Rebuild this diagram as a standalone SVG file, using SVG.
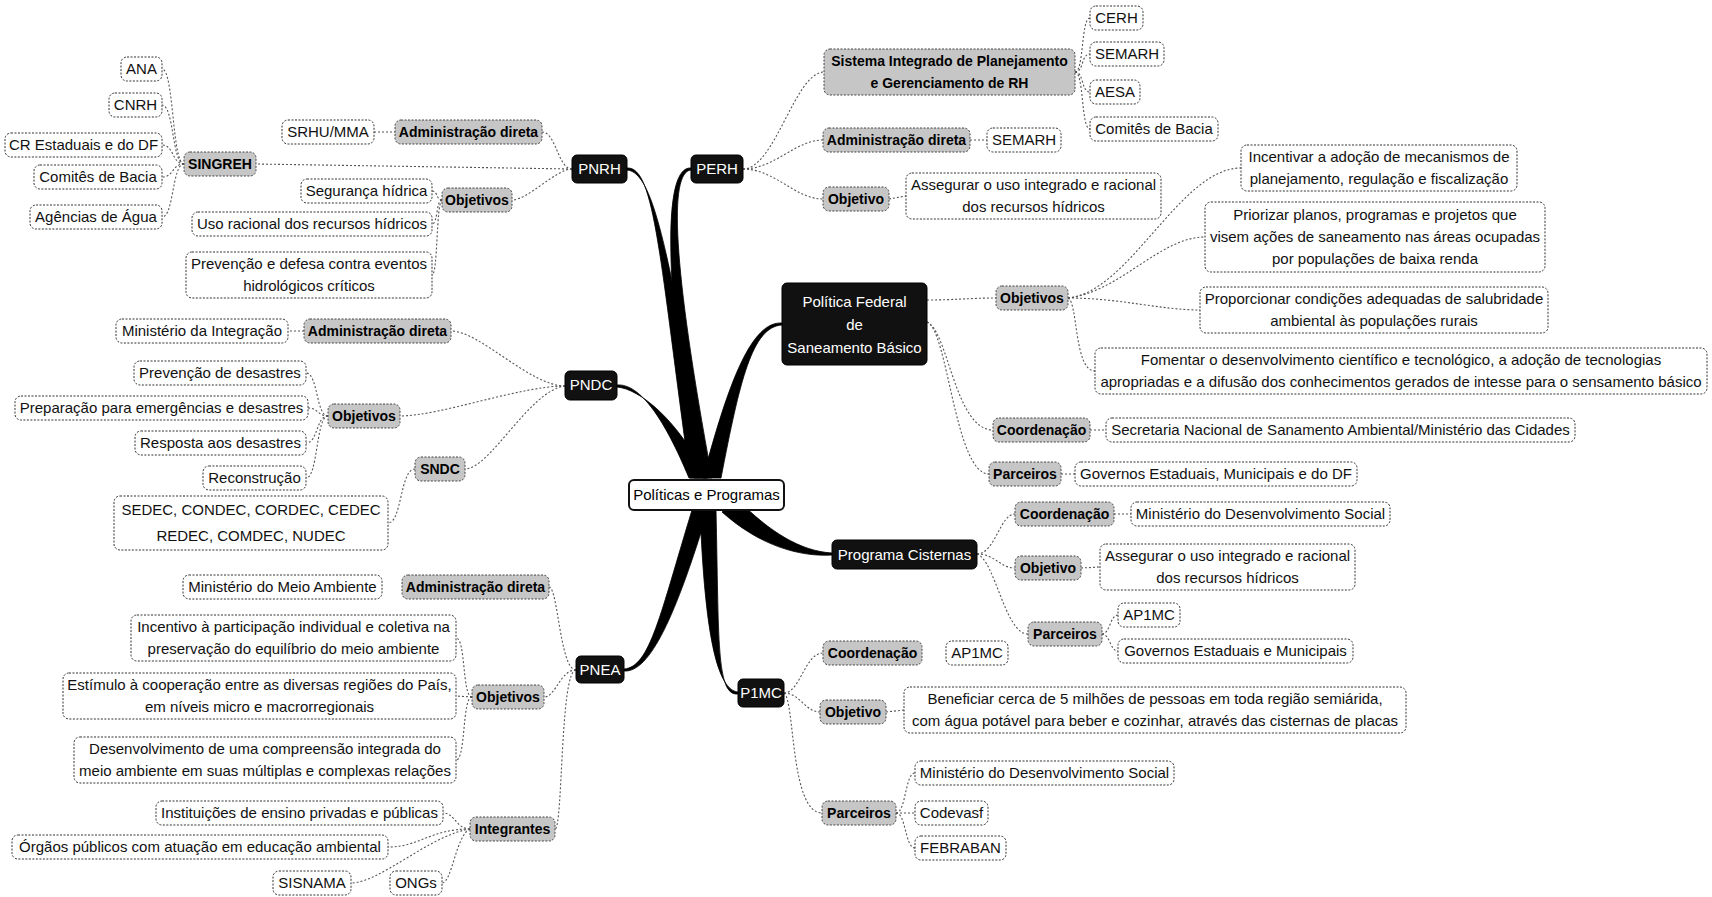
<svg xmlns="http://www.w3.org/2000/svg" width="1712" height="897" viewBox="0 0 1712 897">
<style>
text{font-family:"Liberation Sans",Arial,sans-serif;text-anchor:middle}
.lf rect{fill:#fff;stroke:#333;stroke-width:1;stroke-dasharray:2 1.5}
.lf text{font-size:15px;fill:#111}
.gl rect{fill:#c6c6c6;stroke:#444;stroke-width:1;stroke-dasharray:2 1.5}
.gl text{font-size:14px;font-weight:bold;fill:#000}
.mn rect{fill:#111;stroke:#000}
.mn text{font-size:15px;fill:#fff}
.ct rect{fill:#fff;stroke:#111;stroke-width:2}
.ct text{font-size:15px;fill:#000}
.c{fill:none;stroke:#555;stroke-width:1.1;stroke-dasharray:2 2}
.br{fill:#000;stroke:#000;stroke-width:0.8}
</style>
<rect width="1712" height="897" fill="#fff"/>
<g id="connectors">
<g id="branches">
<path class="br" d="M627 168 C655 166 660 262 690 478 L708 478 C670 262 655 172 627 170 Z"/>
<path class="br" d="M691 168 C665 166 662 262 694 478 L712 478 C672 262 669 172 691 170 Z"/>
<path class="br" d="M782 323 C752 321 729 380 703 478 L721 478 C740 380 752 327 782 325 Z"/>
<path class="br" d="M617 385 C640 383 665 420 689 478 L707 478 C678 420 640 389 617 387 Z"/>
<path class="br" d="M832 553 C800 551 770 532 738 500 L722 512 C760 546 800 557 832 555 Z"/>
<path class="br" d="M624 669 C650 667 660 615 692 510 L708 510 C676 615 650 673 624 671 Z"/>
<path class="br" d="M738 692 C718 690 705 640 700 510 L716 510 C719 640 716 696 738 694 Z"/>
</g>
<path class="c" d="M572 169 L256 164"/>
<path class="c" d="M572 169 C558 169 556 132 542 132"/>
<path class="c" d="M572 169 C556 169 528 200 512 200"/>
<path class="c" d="M374 132 L395 132"/>
<path class="c" d="M442 200 C436 200 438 191 432 191"/>
<path class="c" d="M442 200 C436 200 438 224 432 224"/>
<path class="c" d="M442 200 C436 204 438 275 432 275"/>
<path class="c" d="M184 164 C172 164 174 69 162 69"/>
<path class="c" d="M184 164 C172 164 174 105 162 105"/>
<path class="c" d="M184 164 C172 164 174 145 162 145"/>
<path class="c" d="M184 164 C172 164 174 177 162 177"/>
<path class="c" d="M184 164 C172 164 174 217 162 217"/>
<path class="c" d="M743 169 C775 169 795 72 824 72"/>
<path class="c" d="M743 169 C775 169 795 140 823 140"/>
<path class="c" d="M743 169 C775 169 795 199 823 199"/>
<path class="c" d="M1075 72 C1084 72 1081 18 1090 18"/>
<path class="c" d="M1075 72 C1084 72 1081 54 1090 54"/>
<path class="c" d="M1075 72 C1084 72 1081 92 1090 92"/>
<path class="c" d="M1075 72 C1084 72 1081 129 1090 129"/>
<path class="c" d="M970 140 L987 140"/>
<path class="c" d="M889 199 L906 196"/>
<path class="c" d="M927 300 C955 300 970 298 996 298"/>
<path class="c" d="M927 322 C948 330 955 430 993 430"/>
<path class="c" d="M927 322 C948 330 955 474 989 474"/>
<path class="c" d="M1068 298 C1130 292 1180 168 1241 168"/>
<path class="c" d="M1068 298 C1120 292 1160 237 1205 237"/>
<path class="c" d="M1068 298 C1120 298 1160 310 1200 310"/>
<path class="c" d="M1068 298 C1078 302 1074 371 1095 371"/>
<path class="c" d="M1090 430 L1106 430"/>
<path class="c" d="M1061 474 L1075 474"/>
<path class="c" d="M565 386 C530 386 480 331 451 331"/>
<path class="c" d="M565 386 C520 386 440 416 400 416"/>
<path class="c" d="M565 386 C530 390 490 469 465 469"/>
<path class="c" d="M304 331 L288 331"/>
<path class="c" d="M328 416 C316 416 318 373 306 373"/>
<path class="c" d="M328 416 C318 416 318 408 308 408"/>
<path class="c" d="M328 416 C316 416 318 443 306 443"/>
<path class="c" d="M328 416 C316 416 318 478 306 478"/>
<path class="c" d="M415 469 C400 469 402 523 388 523"/>
<path class="c" d="M576 670 C560 670 558 587 549 587"/>
<path class="c" d="M576 670 C560 670 556 697 544 697"/>
<path class="c" d="M576 670 C560 670 563 829 555 829"/>
<path class="c" d="M472 697 C462 697 466 638 456 638"/>
<path class="c" d="M472 697 L456 696"/>
<path class="c" d="M472 697 C462 697 466 760 456 760"/>
<path class="c" d="M470 829 C456 829 455 813 443 813"/>
<path class="c" d="M470 829 C430 829 420 847 388 847"/>
<path class="c" d="M470 829 C430 835 380 883 351 883"/>
<path class="c" d="M470 829 C456 835 452 883 442 883"/>
<path class="c" d="M977 554 C995 554 1000 514 1015 514"/>
<path class="c" d="M977 554 C995 554 1000 568 1015 568"/>
<path class="c" d="M977 554 C995 560 1005 634 1028 634"/>
<path class="c" d="M1114 514 L1131 514"/>
<path class="c" d="M1081 568 L1100 567"/>
<path class="c" d="M1102 634 C1110 634 1110 615 1118 615"/>
<path class="c" d="M1102 634 C1110 634 1110 651 1118 651"/>
<path class="c" d="M784 693 C800 693 805 653 823 653"/>
<path class="c" d="M784 693 C800 693 805 712 820 712"/>
<path class="c" d="M784 693 C795 700 790 813 822 813"/>
<path class="c" d="M886 712 L904 710"/>
<path class="c" d="M896 813 C906 813 905 773 915 773"/>
<path class="c" d="M896 813 L915 813"/>
<path class="c" d="M896 813 C906 813 905 848 915 848"/>
</g>

<g id="n_center" class="ct"><rect x="629" y="480" width="155" height="30" rx="5"/><text x="706.5" y="500">Políticas e Programas</text></g>

<g id="n_pnrh" class="mn"><rect x="572" y="155" width="55" height="28" rx="5"/><text x="599.5" y="174">PNRH</text></g>
<g id="n_singreh" class="gl"><rect x="184" y="152" width="72" height="24" rx="6"/><text x="220" y="169">SINGREH</text></g>
<g id="n_ana" class="lf"><rect x="121" y="57" width="41" height="24" rx="6"/><text x="141.5" y="74">ANA</text></g>
<g id="n_cnrh" class="lf"><rect x="109" y="93" width="53" height="24" rx="6"/><text x="135.5" y="110">CNRH</text></g>
<g id="n_cr" class="lf"><rect x="5" y="133" width="157" height="24" rx="6"/><text x="83.5" y="150">CR Estaduais e do DF</text></g>
<g id="n_comites1" class="lf"><rect x="34" y="165" width="128" height="24" rx="6"/><text x="98" y="182">Comitês de Bacia</text></g>
<g id="n_agencias" class="lf"><rect x="30" y="205" width="132" height="24" rx="6"/><text x="96" y="222">Agências de Água</text></g>
<g id="n_srhu" class="lf"><rect x="282" y="120" width="92" height="24" rx="6"/><text x="328" y="137">SRHU/MMA</text></g>
<g id="n_adm1" class="gl"><rect x="395" y="120" width="147" height="24" rx="6"/><text x="468.5" y="137">Administração direta</text></g>
<g id="n_obj1" class="gl"><rect x="442" y="188" width="70" height="24" rx="6"/><text x="477" y="205">Objetivos</text></g>
<g id="n_seg" class="lf"><rect x="301" y="179" width="131" height="24" rx="6"/><text x="366.5" y="196">Segurança hídrica</text></g>
<g id="n_uso" class="lf"><rect x="192" y="212" width="240" height="24" rx="6"/><text x="312" y="229">Uso racional dos recursos hídricos</text></g>
<g id="n_prev1" class="lf"><rect x="186" y="252" width="246" height="46" rx="6"/><text x="309" y="269">Prevenção e defesa contra eventos</text><text x="309" y="291">hidrológicos críticos</text></g>

<g id="n_perh" class="mn"><rect x="691" y="155" width="52" height="28" rx="5"/><text x="717" y="174">PERH</text></g>
<g id="n_sistema" class="gl"><rect x="824" y="49" width="251" height="46" rx="6"/><text x="949.5" y="66">Sistema Integrado de Planejamento</text><text x="949.5" y="88">e Gerenciamento de RH</text></g>
<g id="n_cerh" class="lf"><rect x="1090" y="6" width="53" height="24" rx="6"/><text x="1116.5" y="23">CERH</text></g>
<g id="n_semarh1" class="lf"><rect x="1090" y="42" width="74" height="24" rx="6"/><text x="1127" y="59">SEMARH</text></g>
<g id="n_aesa" class="lf"><rect x="1090" y="80" width="50" height="24" rx="6"/><text x="1115" y="97">AESA</text></g>
<g id="n_comites2" class="lf"><rect x="1090" y="117" width="128" height="24" rx="6"/><text x="1154" y="134">Comitês de Bacia</text></g>
<g id="n_adm2" class="gl"><rect x="823" y="128" width="147" height="24" rx="6"/><text x="896.5" y="145">Administração direta</text></g>
<g id="n_semarh2" class="lf"><rect x="987" y="128" width="74" height="24" rx="6"/><text x="1024" y="145">SEMARH</text></g>
<g id="n_obj2" class="gl"><rect x="823" y="187" width="66" height="24" rx="6"/><text x="856" y="204">Objetivo</text></g>
<g id="n_assegurar1" class="lf"><rect x="906" y="173" width="255" height="46" rx="6"/><text x="1033.5" y="190">Assegurar o uso integrado e racional</text><text x="1033.5" y="212">dos recursos hídricos</text></g>

<g id="n_pf" class="mn"><rect x="782" y="283" width="145" height="82" rx="5"/><text x="854.5" y="307">Política Federal</text><text x="854.5" y="330">de</text><text x="854.5" y="353">Saneamento Básico</text></g>
<g id="n_obj3" class="gl"><rect x="996" y="286" width="72" height="24" rx="6"/><text x="1032" y="303">Objetivos</text></g>
<g id="n_incentivar" class="lf"><rect x="1241" y="145" width="276" height="46" rx="6"/><text x="1379" y="162">Incentivar a adoção de mecanismos de</text><text x="1379" y="184">planejamento, regulação e fiscalização</text></g>
<g id="n_priorizar" class="lf"><rect x="1205" y="202" width="340" height="70" rx="6"/><text x="1375" y="220">Priorizar planos, programas e projetos que</text><text x="1375" y="242">visem ações de saneamento nas áreas ocupadas</text><text x="1375" y="264">por populações de baixa renda</text></g>
<g id="n_proporcionar" class="lf"><rect x="1200" y="287" width="348" height="46" rx="6"/><text x="1374" y="304">Proporcionar condições adequadas de salubridade</text><text x="1374" y="326">ambiental às populações rurais</text></g>
<g id="n_fomentar" class="lf"><rect x="1095" y="348" width="612" height="46" rx="6"/><text x="1401" y="365">Fomentar o desenvolvimento científico e tecnológico, a adoção de tecnologias</text><text x="1401" y="387">apropriadas e a difusão dos conhecimentos gerados de intesse para o sensamento básico</text></g>
<g id="n_coord1" class="gl"><rect x="993" y="418" width="97" height="24" rx="6"/><text x="1041.5" y="435">Coordenação</text></g>
<g id="n_secretaria" class="lf"><rect x="1106" y="418" width="469" height="24" rx="6"/><text x="1340.5" y="435">Secretaria Nacional de Sanamento Ambiental/Ministério das Cidades</text></g>
<g id="n_parc1" class="gl"><rect x="989" y="462" width="72" height="24" rx="6"/><text x="1025" y="479">Parceiros</text></g>
<g id="n_gov1" class="lf"><rect x="1075" y="462" width="282" height="24" rx="6"/><text x="1216" y="479">Governos Estaduais, Municipais e do DF</text></g>

<g id="n_pndc" class="mn"><rect x="565" y="371" width="52" height="29" rx="5"/><text x="591" y="390">PNDC</text></g>
<g id="n_min_int" class="lf"><rect x="116" y="319" width="172" height="24" rx="6"/><text x="202" y="336">Ministério da Integração</text></g>
<g id="n_adm3" class="gl"><rect x="304" y="319" width="147" height="24" rx="6"/><text x="377.5" y="336">Administração direta</text></g>
<g id="n_obj4" class="gl"><rect x="328" y="404" width="72" height="24" rx="6"/><text x="364" y="421">Objetivos</text></g>
<g id="n_prev2" class="lf"><rect x="134" y="361" width="172" height="24" rx="6"/><text x="220" y="378">Prevenção de desastres</text></g>
<g id="n_prep" class="lf"><rect x="15" y="396" width="293" height="24" rx="6"/><text x="161.5" y="413">Preparação para emergências e desastres</text></g>
<g id="n_resp" class="lf"><rect x="135" y="431" width="171" height="24" rx="6"/><text x="220.5" y="448">Resposta aos desastres</text></g>
<g id="n_recon" class="lf"><rect x="203" y="466" width="103" height="24" rx="6"/><text x="254.5" y="483">Reconstrução</text></g>
<g id="n_sndc" class="gl"><rect x="415" y="457" width="50" height="24" rx="6"/><text x="440" y="474">SNDC</text></g>
<g id="n_sedec" class="lf"><rect x="114" y="496" width="274" height="54" rx="6"/><text x="251" y="515">SEDEC, CONDEC, CORDEC, CEDEC</text><text x="251" y="541">REDEC, COMDEC, NUDEC</text></g>

<g id="n_pnea" class="mn"><rect x="576" y="656" width="48" height="27" rx="5"/><text x="600" y="675">PNEA</text></g>
<g id="n_min_ma" class="lf"><rect x="183" y="575" width="199" height="24" rx="6"/><text x="282.5" y="592">Ministério do Meio Ambiente</text></g>
<g id="n_adm4" class="gl"><rect x="402" y="575" width="147" height="24" rx="6"/><text x="475.5" y="592">Administração direta</text></g>
<g id="n_incentivo" class="lf"><rect x="131" y="615" width="325" height="46" rx="6"/><text x="293.5" y="632">Incentivo à participação individual e coletiva na</text><text x="293.5" y="654">preservação do equilíbrio do meio ambiente</text></g>
<g id="n_obj5" class="gl"><rect x="472" y="685" width="72" height="24" rx="6"/><text x="508" y="702">Objetivos</text></g>
<g id="n_estimulo" class="lf"><rect x="63" y="673" width="393" height="46" rx="6"/><text x="259.5" y="690">Estímulo à cooperação entre as diversas regiões do País,</text><text x="259.5" y="712">em níveis micro e macrorregionais</text></g>
<g id="n_desenv" class="lf"><rect x="74" y="737" width="382" height="46" rx="6"/><text x="265" y="754">Desenvolvimento de uma compreensão integrada do</text><text x="265" y="776">meio ambiente em suas múltiplas e complexas relações</text></g>
<g id="n_inst" class="lf"><rect x="156" y="801" width="287" height="24" rx="6"/><text x="299.5" y="818">Instituições de ensino privadas e públicas</text></g>
<g id="n_orgaos" class="lf"><rect x="12" y="835" width="376" height="24" rx="6"/><text x="200" y="852">Órgãos públicos com atuação em educação ambiental</text></g>
<g id="n_integrantes" class="gl"><rect x="470" y="817" width="85" height="24" rx="6"/><text x="512.5" y="834">Integrantes</text></g>
<g id="n_sisnama" class="lf"><rect x="273" y="871" width="78" height="24" rx="6"/><text x="312" y="888">SISNAMA</text></g>
<g id="n_ongs" class="lf"><rect x="390" y="871" width="52" height="24" rx="6"/><text x="416" y="888">ONGs</text></g>

<g id="n_pc" class="mn"><rect x="832" y="540" width="145" height="29" rx="5"/><text x="904.5" y="560">Programa Cisternas</text></g>
<g id="n_coord2" class="gl"><rect x="1015" y="502" width="99" height="24" rx="6"/><text x="1064.5" y="519">Coordenação</text></g>
<g id="n_min_ds1" class="lf"><rect x="1131" y="502" width="259" height="24" rx="6"/><text x="1260.5" y="519">Ministério do Desenvolvimento Social</text></g>
<g id="n_obj6" class="gl"><rect x="1015" y="556" width="66" height="24" rx="6"/><text x="1048" y="573">Objetivo</text></g>
<g id="n_assegurar2" class="lf"><rect x="1100" y="544" width="255" height="46" rx="6"/><text x="1227.5" y="561">Assegurar o uso integrado e racional</text><text x="1227.5" y="583">dos recursos hídricos</text></g>
<g id="n_parc2" class="gl"><rect x="1028" y="622" width="74" height="24" rx="6"/><text x="1065" y="639">Parceiros</text></g>
<g id="n_ap1mc1" class="lf"><rect x="1118" y="603" width="62" height="24" rx="6"/><text x="1149" y="620">AP1MC</text></g>
<g id="n_gov2" class="lf"><rect x="1118" y="639" width="235" height="24" rx="6"/><text x="1235.5" y="656">Governos Estaduais e Municipais</text></g>

<g id="n_p1mc" class="mn"><rect x="738" y="679" width="46" height="28" rx="5"/><text x="761" y="698">P1MC</text></g>
<g id="n_coord3" class="gl"><rect x="823" y="641" width="99" height="24" rx="6"/><text x="872.5" y="658">Coordenação</text></g>
<g id="n_ap1mc2" class="lf"><rect x="946" y="641" width="62" height="24" rx="6"/><text x="977" y="658">AP1MC</text></g>
<g id="n_obj7" class="gl"><rect x="820" y="700" width="66" height="24" rx="6"/><text x="853" y="717">Objetivo</text></g>
<g id="n_beneficiar" class="lf"><rect x="904" y="687" width="502" height="46" rx="6"/><text x="1155" y="704">Beneficiar cerca de 5 milhões de pessoas em toda região semiárida,</text><text x="1155" y="726">com água potável para beber e cozinhar, através das cisternas de placas</text></g>
<g id="n_parc3" class="gl"><rect x="822" y="801" width="74" height="24" rx="6"/><text x="859" y="818">Parceiros</text></g>
<g id="n_min_ds2" class="lf"><rect x="915" y="761" width="259" height="24" rx="6"/><text x="1044.5" y="778">Ministério do Desenvolvimento Social</text></g>
<g id="n_codevasf" class="lf"><rect x="915" y="801" width="73" height="24" rx="6"/><text x="951.5" y="818">Codevasf</text></g>
<g id="n_febraban" class="lf"><rect x="915" y="836" width="91" height="24" rx="6"/><text x="960.5" y="853">FEBRABAN</text></g>
</svg>
